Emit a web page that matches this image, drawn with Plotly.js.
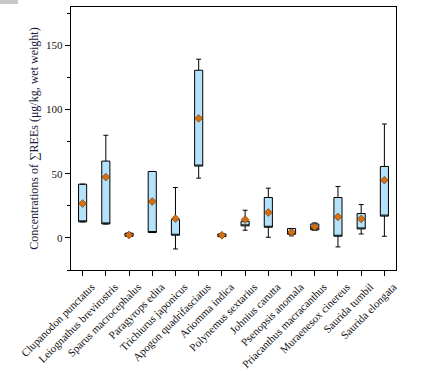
<!DOCTYPE html>
<html>
<head>
<meta charset="utf-8">
<script src="https://cdn.plot.ly/plotly-3.0.1.min.js"></script>
<style>
html,body{margin:0;padding:0;background:#fff;}
#chart{width:427px;height:375px;}
#corner{position:absolute;left:0;top:0;width:18px;height:4px;background:#c8c8c8;}
</style>
</head>
<body>
<div id="chart"></div>
<div id="corner"></div>
<script>
var species = ["Clupanodon punctatus","Leiognathus brevirostris","Sparus macrocephalus","Paragyrops edita","Trichiurus japonicus","Apogon quadrifasciatus","Ariomma indica","Polynemus sextarius","Johnius carutta","Psenopsis anomala","Priacanthus macracanthus","Muraenesox cinereus","Saurida tumbil","Saurida elongata"];
var q1Values    = [12.5, 10.9, 1.3, 4.2, 2.1, 56.0, 1.0, 9.4, 8.3, 2.9, 6.3, 1.3, 7.0, 17.0];
var q3Values    = [41.9, 59.9, 3.7, 51.8, 14.3, 130.7, 3.1, 13.0, 31.5, 7.3, 10.9, 31.5, 19.0, 55.7];
var lowValues   = [12.5, 13.8, 1.3, 4.2, -8.6, 46.6, 1.0, 6.0, 0.5, 1.6, 6.0, -7.0, 3.1, 1.3];
var highValues  = [41.9, 80.0, 3.7, 51.8, 39.3, 139.3, 3.1, 21.6, 38.8, 7.3, 11.7, 40.1, 26.0, 88.8];
var meanValues  = [26.8, 47.4, 2.3, 28.4, 15.1, 93.2, 2.1, 14.3, 19.8, 4.4, 8.6, 16.4, 14.8, 45.0];
var yTickVals = [0, 50, 100, 150];

var serif = "Liberation Serif, Times New Roman, serif";

var boxTrace = {
  type: "box",
  x: species,
  q1: q1Values,
  median: q1Values,
  q3: q3Values,
  lowerfence: lowValues,
  upperfence: highValues,
  fillcolor: "#b5e2fb",
  line: {color: "#000", width: 1},
  whiskerwidth: 0.6,
  boxpoints: false,
  hoverinfo: "skip",
  showlegend: false
};
var meanTrace = {
  type: "scatter",
  mode: "markers",
  x: species,
  y: meanValues,
  marker: {symbol: "diamond", size: 6, color: "#d46f12", line: {color: "#6b3300", width: 0.6}},
  hoverinfo: "skip",
  showlegend: false
};

var layout = {
  width: 427, height: 375,
  margin: {l: 71, r: 31, t: 7, b: 105},
  paper_bgcolor: "#fff", plot_bgcolor: "#fff",
  boxgap: 0.5,
  showlegend: false,
  font: {family: serif, color: "#111"},
  xaxis: {
    type: "category",
    range: [-0.5, 13.5],
    showline: true, linecolor: "#000", linewidth: 1.2, mirror: true,
    ticks: "outside", ticklen: 5, tickcolor: "#000", tickwidth: 1,
    tickangle: -45,
    ticklabelshift: 9,
    tickfont: {family: serif, size: 11, color: "#111"},
    showgrid: false, zeroline: false
  },
  yaxis: {
    range: [-25, 180],
    tickvals: yTickVals,
    showline: true, linecolor: "#000", linewidth: 1.2, mirror: true,
    ticks: "outside", ticklen: 5, tickcolor: "#000", tickwidth: 1,
    minor: {dtick: 25, ticks: "outside", ticklen: 3, tickcolor: "#000", showgrid: false},
    tickfont: {family: serif, size: 11, color: "#111"},
    showgrid: false, zeroline: false,
    title: {text: "Concentrations of \u2211REEs (\u03bcg/kg, wet weight)", font: {family: serif, size: 12, color: "#1a1a3a"}, standoff: 4}
  }
};

Plotly.newPlot("chart", [boxTrace, meanTrace], layout, {staticPlot: true, displayModeBar: false});
</script>
</body>
</html>
